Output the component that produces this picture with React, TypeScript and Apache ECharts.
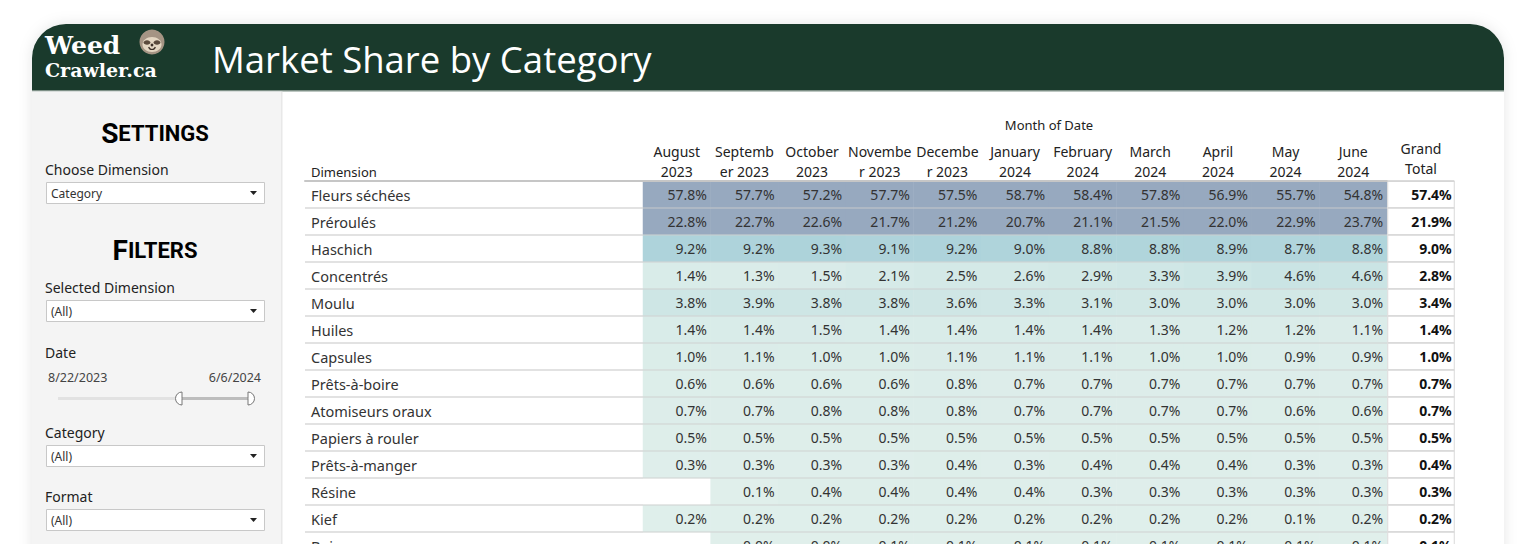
import React, { useEffect, useRef } from "react";
import * as echarts from "echarts";

const months = [
  "August\n2023", "Septemb\ner 2023", "October\n2023", "Novembe\nr 2023", "Decembe\nr 2023",
  "January\n2024", "February\n2024", "March\n2024", "April\n2024", "May\n2024", "June\n2024",
];
const dimensions = [
  "Fleurs séchées", "Préroulés", "Haschich", "Concentrés", "Moulu", "Huiles", "Capsules",
  "Prêts-à-boire", "Atomiseurs oraux", "Papiers à rouler", "Prêts-à-manger", "Résine", "Kief", "Boissons",
];
const shares: (number | null)[][] = [
  [57.8, 57.7, 57.2, 57.7, 57.5, 58.7, 58.4, 57.8, 56.9, 55.7, 54.8],
  [22.8, 22.7, 22.6, 21.7, 21.2, 20.7, 21.1, 21.5, 22.0, 22.9, 23.7],
  [9.2, 9.2, 9.3, 9.1, 9.2, 9.0, 8.8, 8.8, 8.9, 8.7, 8.8],
  [1.4, 1.3, 1.5, 2.1, 2.5, 2.6, 2.9, 3.3, 3.9, 4.6, 4.6],
  [3.8, 3.9, 3.8, 3.8, 3.6, 3.3, 3.1, 3.0, 3.0, 3.0, 3.0],
  [1.4, 1.4, 1.5, 1.4, 1.4, 1.4, 1.4, 1.3, 1.2, 1.2, 1.1],
  [1.0, 1.1, 1.0, 1.0, 1.1, 1.1, 1.1, 1.0, 1.0, 0.9, 0.9],
  [0.6, 0.6, 0.6, 0.6, 0.8, 0.7, 0.7, 0.7, 0.7, 0.7, 0.7],
  [0.7, 0.7, 0.8, 0.8, 0.8, 0.7, 0.7, 0.7, 0.7, 0.6, 0.6],
  [0.5, 0.5, 0.5, 0.5, 0.5, 0.5, 0.5, 0.5, 0.5, 0.5, 0.5],
  [0.3, 0.3, 0.3, 0.3, 0.4, 0.3, 0.4, 0.4, 0.4, 0.3, 0.3],
  [null, 0.1, 0.4, 0.4, 0.4, 0.4, 0.3, 0.3, 0.3, 0.3, 0.3],
  [0.2, 0.2, 0.2, 0.2, 0.2, 0.2, 0.2, 0.2, 0.2, 0.1, 0.2],
  [null, 0.0, 0.0, 0.1, 0.1, 0.1, 0.1, 0.1, 0.1, 0.1, 0.1],
];
const grandTotals = [57.4, 21.9, 9.0, 2.8, 3.4, 1.4, 1.0, 0.7, 0.7, 0.5, 0.4, 0.3, 0.2, 0.1];
const totalHeader = ["Grand\nTotal"];

const FONT = "'Noto Sans', sans-serif";

function dropdown(y: number, label: string, value: string) {
  return [
    { type: "text", x: 45, y: y - 12.5, style: { text: label, font: `14px ${FONT}`, fill: "#222", textVerticalAlign: "middle" } },
    { type: "rect", shape: { x: 46.5, y: y + 0.5, width: 218, height: 21 }, style: { fill: "#fff", stroke: "#c8c8c8", lineWidth: 1 } },
    { type: "text", x: 51, y: y + 11, style: { text: value, font: `12px ${FONT}`, fill: "#333", textVerticalAlign: "middle" } },
    { type: "polygon", shape: { points: [[250, y + 9], [257, y + 9], [253.5, y + 13]] }, style: { fill: "#222" } },
  ];
}

export default function App() {
  const ref = useRef<HTMLDivElement>(null);
  useEffect(() => {
    if (!ref.current) return;
    const chart = echarts.init(ref.current, null, { renderer: "svg" });

    const cellData: number[][] = [];
    shares.forEach((row, yi) => row.forEach((v, xi) => { if (v !== null) cellData.push([xi, yi, v]); }));
    const totalData = grandTotals.map((v, yi) => [0, yi, v]);

    const gridTop = 181;
    const rowH = 27;
    const gridH = rowH * dimensions.length;

    const heading = (x: number, y: number, first: string, rest: string) => ({
      type: "text", x, y,
      style: {
        text: `{a|${first}}{b|${rest}}`, textAlign: "center", textVerticalAlign: "middle",
        rich: {
          a: { fontSize: 28, fontWeight: "bold", fontFamily: "Roboto", color: "#111" },
          b: { fontSize: 22, fontWeight: "bold", fontFamily: "Roboto", color: "#111" },
        },
      },
    });

    const graphics: any[] = [
      { type: "rect", shape: { x: 32, y: 24, width: 1472, height: 600, r: [34, 34, 0, 0] }, style: { fill: "#fff", shadowBlur: 14, shadowColor: "rgba(0,0,0,0.10)" }, z: -10 },
      { type: "rect", shape: { x: 32, y: 24, width: 1472, height: 67, r: [34, 34, 0, 0] }, style: { fill: "#1a3a2c" }, z: -5 },
      { type: "rect", shape: { x: 32, y: 90, width: 1472, height: 1.5 }, style: { fill: "#7d8f86" }, z: -5 },
      { type: "rect", shape: { x: 32, y: 91.5, width: 249, height: 520 }, style: { fill: "#f4f4f4" }, z: -5 },
      { type: "rect", shape: { x: 281, y: 91.5, width: 1.5, height: 520 }, style: { fill: "#e8e8e8" }, z: -5 },
      // logo
      { type: "text", x: 45, y: 45, style: { text: "Weed", font: `bold 25px 'DejaVu Serif', serif`, fill: "#fff", textVerticalAlign: "middle" } },
      { type: "text", x: 45, y: 70, style: { text: "Crawler.ca", font: `bold 19px 'DejaVu Serif', serif`, fill: "#fff", textVerticalAlign: "middle" } },
      { type: "circle", shape: { cx: 152, cy: 42, r: 12.5 }, style: { fill: "#a59484" } },
      { type: "ellipse", shape: { cx: 152, cy: 44.5, rx: 9.5, ry: 7.5 }, style: { fill: "#e4d6c2" } },
      { type: "ellipse", shape: { cx: 147, cy: 42.5, rx: 3.4, ry: 2.3 }, style: { fill: "#5b4a3c" } },
      { type: "ellipse", shape: { cx: 157, cy: 42.5, rx: 3.4, ry: 2.3 }, style: { fill: "#5b4a3c" } },
      { type: "circle", shape: { cx: 152, cy: 45, r: 1.4 }, style: { fill: "#3d3028" } },
      { type: "arc", shape: { cx: 152, cy: 46, r: 3.5, startAngle: 0.3, endAngle: Math.PI - 0.3 }, style: { stroke: "#3d3028", lineWidth: 1.2, fill: "none" } },
      // title
      { type: "text", x: 212, y: 59, style: { text: "Market Share by Category", font: `36.5px 'Open Sans', sans-serif`, fill: "#fff", textVerticalAlign: "middle" } },
      // side panel
      heading(155, 133, "S", "ETTINGS"),
      heading(155, 250, "F", "ILTERS"),
      ...dropdown(182, "Choose Dimension", "Category"),
      ...dropdown(300, "Selected Dimension", "(All)"),
      { type: "text", x: 45, y: 352, style: { text: "Date", font: `14px ${FONT}`, fill: "#222", textVerticalAlign: "middle" } },
      { type: "text", x: 48, y: 377, style: { text: "8/22/2023", font: `12.5px ${FONT}`, fill: "#444", textVerticalAlign: "middle" } },
      { type: "text", x: 261, y: 377, style: { text: "6/6/2024", font: `12.5px ${FONT}`, fill: "#444", textAlign: "right", textVerticalAlign: "middle" } },
      { type: "line", shape: { x1: 58, y1: 398.5, x2: 250, y2: 398.5 }, style: { stroke: "#e2e2e2", lineWidth: 3 } },
      { type: "line", shape: { x1: 181, y1: 398.5, x2: 249, y2: 398.5 }, style: { stroke: "#bdbdbd", lineWidth: 3 } },
      { type: "sector", shape: { cx: 182, cy: 398.5, r0: 0, r: 6.5, startAngle: Math.PI / 2, endAngle: Math.PI * 1.5 }, style: { fill: "#fff", stroke: "#777", lineWidth: 1 } },
      { type: "sector", shape: { cx: 248, cy: 398.5, r0: 0, r: 6.5, startAngle: -Math.PI / 2, endAngle: Math.PI / 2 }, style: { fill: "#fff", stroke: "#777", lineWidth: 1 } },
      ...dropdown(445, "Category", "(All)"),
      ...dropdown(509, "Format", "(All)"),
      // table header texts
      { type: "text", x: 1049, y: 125, style: { text: "Month of Date", font: `13px ${FONT}`, fill: "#222", textAlign: "center", textVerticalAlign: "middle" } },
      { type: "text", x: 311, y: 172, style: { text: "Dimension", font: `13px ${FONT}`, fill: "#222", textVerticalAlign: "middle" } },
    ];

    const baseY = {
      type: "category",
      inverse: true,
      data: dimensions,
      axisLine: { show: false },
      axisTick: { show: false },
      z: 10,
    };

    chart.setOption({
      animation: false,
      backgroundColor: "#fff",
      textStyle: { fontFamily: FONT },
      graphic: { elements: graphics },
      grid: [
        { left: 305, top: gridTop, width: 338, height: gridH },
        { left: 643, top: gridTop, width: 744, height: gridH },
        { left: 1388, top: gridTop, width: 66, height: gridH },
      ],
      xAxis: [
        { gridIndex: 0, type: "category", position: "top", data: [""], axisTick: { show: false }, axisLabel: { show: false }, axisLine: { lineStyle: { color: "#c6c6c6", width: 2 } }, z: 11 },
        {
          gridIndex: 1, type: "category", position: "top", data: months, axisTick: { show: false },
          axisLine: { lineStyle: { color: "#c6c6c6", width: 2 } }, z: 11,
          axisLabel: { interval: 0, fontSize: 14, color: "#222", lineHeight: 20, margin: 0, fontFamily: FONT },
        },
        {
          gridIndex: 2, type: "category", position: "top", data: totalHeader, axisTick: { show: false },
          axisLine: { lineStyle: { color: "#d6d6d6", width: 1 } }, z: 11,
          axisLabel: { interval: 0, fontSize: 14, color: "#222", lineHeight: 20, margin: 3, fontFamily: FONT },
        },
      ],
      yAxis: [
        {
          ...baseY, gridIndex: 0,
          axisLabel: { interval: 0, align: "left", margin: -6, fontSize: 14.5, color: "#333", fontFamily: FONT },
          splitLine: { show: true, interval: 0, lineStyle: { color: "#d9d9d9", width: 1.5 } },
        },
        {
          ...baseY, gridIndex: 1, axisLabel: { show: false },
          splitLine: { show: true, interval: 0, lineStyle: { color: "rgba(205,205,205,0.6)", width: 1.5 } },
        },
        {
          ...baseY, gridIndex: 2, axisLabel: { show: false },
          splitLine: { show: true, interval: 0, lineStyle: { color: "#d9d9d9", width: 1.5 } },
        },
      ],
      visualMap: [
        {
          type: "continuous", show: false, seriesIndex: 0, dimension: 2, min: 0, max: 20,
          inRange: { color: ["#e0efeb", "#c8e3e3", "#a9d0d9", "#9fbccd", "#97a9bf"] },
        },
        {
          type: "continuous", show: false, seriesIndex: 1, dimension: 2, min: 0, max: 100,
          inRange: { color: ["#ffffff", "#ffffff"] },
        },
      ],
      series: [
        {
          type: "heatmap", xAxisIndex: 1, yAxisIndex: 1, data: cellData,
          label: {
            show: true, position: "insideRight", distance: 4, fontSize: 14, color: "#333", fontFamily: FONT,
            formatter: (p: any) => p.value[2].toFixed(1) + "%",
          },
          emphasis: { disabled: true },
        },
        {
          type: "heatmap", xAxisIndex: 2, yAxisIndex: 2, data: totalData,
          itemStyle: { borderColor: "#d9d9d9", borderWidth: 1 },
          label: {
            show: true, position: "insideRight", distance: 3, fontSize: 14, color: "#111", fontWeight: "bold", fontFamily: FONT,
            formatter: (p: any) => p.value[2].toFixed(1) + "%",
          },
          emphasis: { disabled: true },
        },
      ],
    });
    return () => chart.dispose();
  }, []);

  return <div ref={ref} style={{ position: "fixed", left: 0, top: 0, width: 1536, height: 620, background: "#fff" }} />;
}
